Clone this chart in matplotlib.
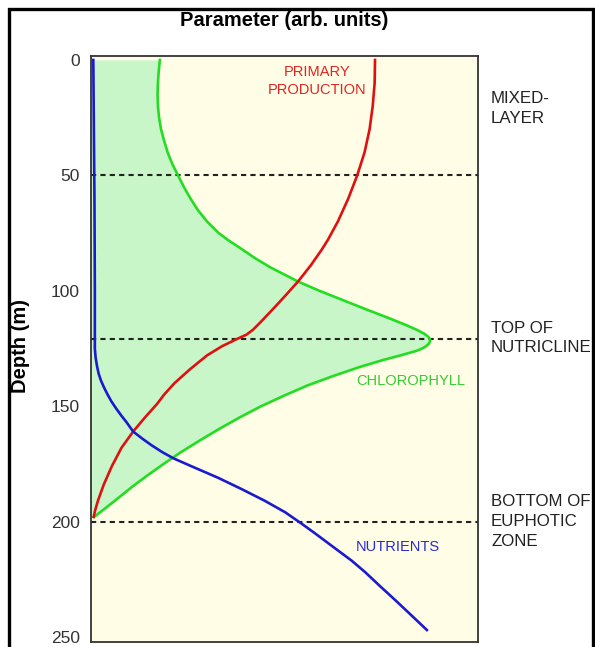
"""Depth profiles of nutrients, chlorophyll and primary production in the upper ocean."""
import matplotlib.pyplot as plt
from matplotlib.patches import Rectangle

plt.rcParams['font.family'] = ['Liberation Sans', 'DejaVu Sans']

# depth (m) and parameter value (arbitrary units, 0-100)
prod_depth = [0, 10, 20, 30, 40, 50, 60, 70, 78, 82, 89, 96, 102, 108, 114, 117, 119, 121, 124, 128, 134, 140, 145, 149, 155, 161, 168, 176, 184, 191, 195, 198]
prod_value = [73.4, 73.3, 72.8, 72.0, 70.7, 68.8, 66.5, 63.8, 61.2, 59.7, 56.8, 53.5, 50.3, 47.0, 43.6, 41.8, 40.2, 37.6, 33.9, 30.0, 25.6, 21.6, 18.9, 17.1, 13.9, 10.9, 7.9, 5.4, 3.3, 1.8, 1.1, 0.7]

chl_depth = [0, 5, 10, 15, 20, 25, 30, 35, 40, 45, 50, 55, 60, 65, 70, 75, 78, 82, 86, 90, 96, 100, 104, 108, 112, 115, 117, 118.5, 120, 121, 122, 123, 124, 125, 126, 128, 130, 133, 137, 141, 145, 150, 155, 160, 165, 170, 175, 180, 185, 190, 194, 198]
chl_value = [17.8, 17.5, 17.3, 17.2, 17.3, 17.6, 18.1, 18.9, 19.8, 21.0, 22.5, 24.0, 25.7, 27.6, 30.0, 33.0, 35.4, 39.0, 42.5, 46.5, 53.5, 59.0, 65.0, 71.0, 77.2, 81.6, 84.3, 86.0, 87.2, 87.6, 87.6, 87.3, 86.6, 85.6, 84.2, 80.0, 75.5, 69.5, 62.5, 56.0, 50.5, 44.0, 38.3, 33.0, 28.0, 23.2, 18.8, 14.6, 10.6, 6.9, 3.9, 0.8]

nut_depth = [0, 60, 100, 125, 129, 133, 136, 139, 142, 145, 148, 151, 154, 157, 161, 164, 167, 170, 172.6, 176, 181, 186, 191, 196, 201, 205, 209, 213, 217, 222, 228, 234, 240, 247]
nut_value = [0.6, 0.9, 1.0, 1.0, 1.2, 1.6, 2.0, 2.6, 3.4, 4.3, 5.3, 6.5, 7.8, 9.2, 10.9, 13.2, 15.7, 18.5, 21.3, 25.9, 32.8, 39.0, 44.9, 50.2, 54.5, 57.8, 61.0, 64.2, 67.4, 70.9, 74.7, 78.6, 82.4, 86.8]

boundary_depths = [50, 121, 200]
boundary_labels = ['MIXED-\nLAYER', 'TOP OF\nNUTRICLINE', 'BOTTOM OF\nEUPHOTIC\nZONE']
boundary_label_depths = [21, 120.5, 200]

depth_ticks = [0, 50, 100, 150, 200, 250]

fig = plt.figure(figsize=(5.95, 6.47), dpi=100)
ax = fig.add_axes([0.1529, 0.0077, 0.6504, 0.9057])
ax.set_facecolor('#fffde5')

ax.fill_betweenx(chl_depth, 0, chl_value, color='#c8f6c8', lw=0, zorder=1)
for d in boundary_depths:
    ax.axhline(d, color='#222222', lw=1.5, ls=(0, (2.5, 2)), zorder=2)

ax.plot(chl_value, chl_depth, color='#22dd22', lw=1.9, zorder=3)
ax.plot(prod_value, prod_depth, color='#e01010', lw=1.9, zorder=4)
ax.plot(nut_value, nut_depth, color='#1a1ad0', lw=1.9, zorder=5)

ax.text(58.3, 9, 'PRIMARY\nPRODUCTION', color='#e02424', fontsize=10.5,
        ha='center', va='center', linespacing=1.35)
ax.text(68.5, 139, 'CHLOROPHYLL', color='#33cc33', fontsize=10.5, ha='left', va='center')
ax.text(68.3, 211, 'NUTRIENTS', color='#2a2acc', fontsize=10.5, ha='left', va='center')

for lab, d in zip(boundary_labels, boundary_label_depths):
    ax.text(103.4, d, lab, color='#222222', fontsize=12.2, ha='left', va='center',
            linespacing=1.4, clip_on=False)

ax.set_xlim(0, 100)
ax.set_ylim(252.2, -1.7)
ax.set_xticks([])
ax.set_yticks(depth_ticks)
ax.tick_params(axis='y', length=0, pad=8, labelsize=12.5, labelcolor='#333333')
for s in ax.spines.values():
    s.set_color('#333333')
    s.set_linewidth(1.3)

fig.text(284 / 595, 1 - 20 / 647, 'Parameter (arb. units)', fontsize=14.5,
         fontweight='bold', ha='center', va='center')
fig.text(21 / 595, 1 - 346 / 647, 'Depth (m)', fontsize=14.5, fontweight='bold',
         rotation=90, ha='center', va='center')

# outer frame, open at the bottom
fig.add_artist(Rectangle((8.5 / 595, -0.05), (593 - 8.5) / 595, 1.05 - 8.5 / 647,
                         transform=fig.transFigure, fill=False, lw=2.4,
                         edgecolor='black', clip_on=False))

fig.savefig('out.png', dpi=100)
